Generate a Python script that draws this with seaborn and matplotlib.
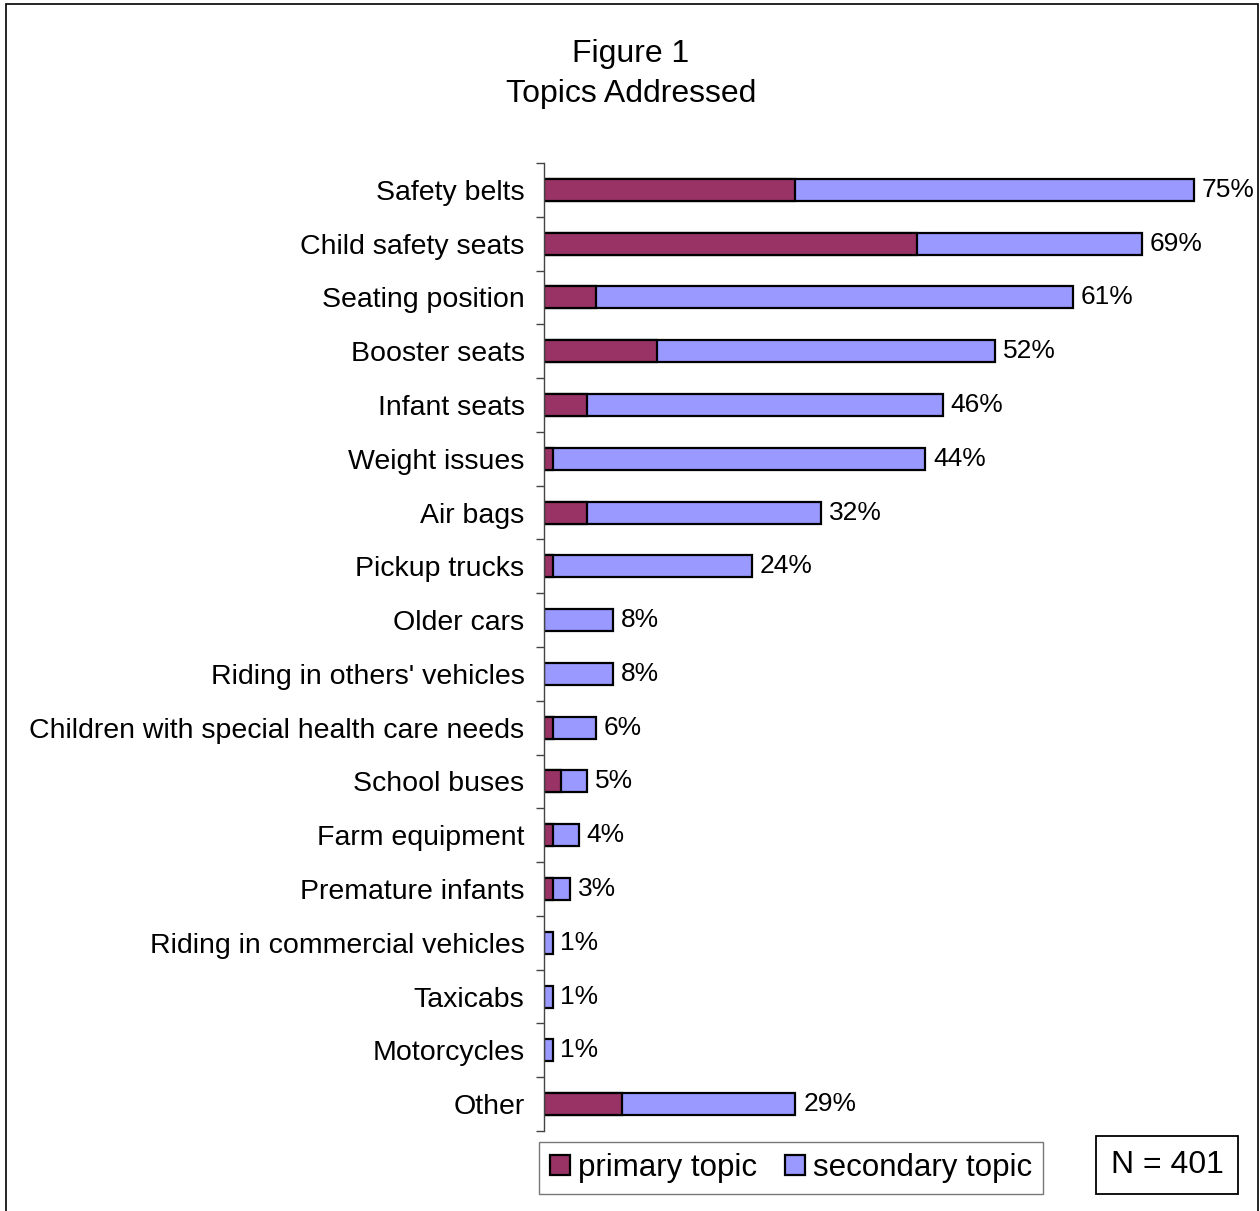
import matplotlib
matplotlib.use("Agg")
import matplotlib.pyplot as plt
import matplotlib.patches as mpatches
import pandas as pd
import seaborn as sns

topics = [
    "Safety belts", "Child safety seats", "Seating position", "Booster seats",
    "Infant seats", "Weight issues", "Air bags", "Pickup trucks", "Older cars",
    "Riding in others' vehicles", "Children with special health care needs",
    "School buses", "Farm equipment", "Premature infants",
    "Riding in commercial vehicles", "Taxicabs", "Motorcycles", "Other",
]
total_pct = [75, 69, 61, 52, 46, 44, 32, 24, 8, 8, 6, 5, 4, 3, 1, 1, 1, 29]
primary_pct = [29, 43, 6, 13, 5, 1, 5, 1, 0, 0, 1, 2, 1, 1, 0, 0, 0, 9]

primary_color = "#993366"
secondary_color = "#9999FF"

df = pd.DataFrame({"topic": topics, "total": total_pct, "primary": primary_pct})

sns.set_style("white")
plt.rcParams["font.family"] = ["Liberation Sans", "DejaVu Sans"]
plt.rcParams["text.color"] = "black"

fig = plt.figure(figsize=(12.6, 12.11), dpi=100)
ax = fig.add_axes([544 / 1260, 1 - 1131 / 1211, 700 / 1260, (1131 - 163) / 1211])

# total bar (secondary colour), with the primary share drawn over its left part
sns.barplot(data=df, y="topic", x="total", orient="h", color=secondary_color,
            width=0.41, edgecolor="black", linewidth=1.6, saturation=1, ax=ax)
sns.barplot(data=df, y="topic", x="primary", orient="h", color=primary_color,
            width=0.41, edgecolor="black", linewidth=1.6, saturation=1, ax=ax)
# no outline for topics without a primary share
for p in ax.patches[len(topics):]:
    if p.get_width() == 0:
        p.set_visible(False)

ax.set_xlim(0, 700 / 8.667)
ax.set_ylim(len(topics) - 0.5, -0.5)
ax.set_xlabel("")
ax.set_ylabel("")
ax.set_xticks([])

for i, v in enumerate(total_pct):
    ax.text(v + 0.9, i, f"{v}%", va="center", ha="left", fontsize=19, color="black")

for s in ["top", "right", "bottom"]:
    ax.spines[s].set_visible(False)
ax.spines["left"].set_color("#444444")
ax.spines["left"].set_linewidth(1.0)

ax.set_yticks(range(len(topics)))
ax.set_yticklabels(topics, fontsize=20.5, color="black")
ax.tick_params(axis="y", which="major", length=0, pad=14)
ax.set_yticks([i - 0.5 for i in range(len(topics) + 1)], minor=True)
ax.tick_params(axis="y", which="minor", length=6, width=1.0, color="#444444",
               direction="out", left=True)

fig.text(631 / 1260, 1 - 54 / 1211, "Figure 1", ha="center", va="center", fontsize=23)
fig.text(631 / 1260, 1 - 94 / 1211, "Topics Addressed", ha="center", va="center", fontsize=23)

handles = [
    mpatches.Patch(facecolor=primary_color, edgecolor="black", linewidth=1.6, label="primary topic"),
    mpatches.Patch(facecolor=secondary_color, edgecolor="black", linewidth=1.6, label="secondary topic"),
]
leg = fig.legend(handles=handles, loc="center", bbox_to_anchor=(791 / 1260, 1 - 1168 / 1211),
                 ncol=2, fontsize=22.5, frameon=True, fancybox=False, handlelength=0.65,
                 handleheight=0.65, handletextpad=0.25, columnspacing=0.9, borderpad=0.35)
leg.get_frame().set_edgecolor("#555555")
leg.get_frame().set_linewidth(1.0)

fig.text(1167 / 1260, 1 - 1165 / 1211, "N = 401", ha="center", va="center", fontsize=23,
         bbox=dict(boxstyle="square,pad=0.45", facecolor="white", edgecolor="black", linewidth=1.3))

border = mpatches.Rectangle((6 / 1260, -0.02), (1258 - 6) / 1260, 1.02 - 4 / 1211,
                            transform=fig.transFigure, fill=False, edgecolor="black",
                            linewidth=1.2)
fig.patches.append(border)

fig.savefig("out.png", dpi=100)
